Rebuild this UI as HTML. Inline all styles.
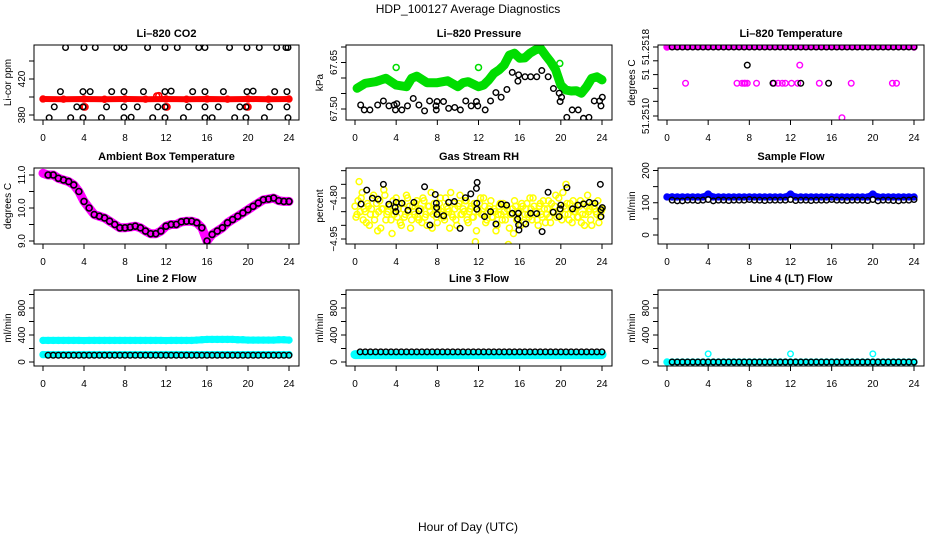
<!DOCTYPE html>
<html><head><meta charset="utf-8"><style>
html,body{margin:0;padding:0;background:#fff}
svg{display:block;font-family:"Liberation Sans",Arial,sans-serif}
</style></head><body>
<svg id="chart" width="936" height="540" viewBox="0 0 936 540">
<text x="468" y="13" text-anchor="middle" font-size="12">HDP_100127  Average Diagnostics</text>
<text x="468" y="531" text-anchor="middle" font-size="12">Hour of Day (UTC)</text>
</svg>
<script>
// ---------- data ----------
const xTicks = [0,4,8,12,16,20,24];
const halfH = [0.5,1,1.5,2,2.5,3,3.5,4,4.5,5,5.5,6,6.5,7,7.5,8,8.5,9,9.5,10,10.5,11,11.5,12,12.5,13,13.5,14,14.5,15,15.5,16,16.5,17,17.5,18,18.5,19,19.5,20,20.5,21,21.5,22,22.5,23,23.5,24];

// CO2
const co2TopH = [2.2,4,5.1,7.2,7.9,10.2,11.9,13.1,15.2,15.8,18.2,19.9,21.1,22.8,23.7,23.9];
const co2TopV = [455,455,455,455,455,455,455,455,455,455,455,455,455,455,455,455];
const co2R2H = [1.7,3.9,4.6,6.7,7.9,9.8,11.9,12.5,14.6,15.8,17.6,19.9,20.5,22.6,23.8];
const co2R2V = [406,406,406,406,406,406,406,406.5,406,406,406,406,406.5,406,406];
const co2R3H = [1.1,3.3,3.9,6.2,7.9,9.2,11.2,11.9,14.2,15.8,17.1,19.2,19.8,22.1,23.8];
const co2R3V = [389,389,389,389,389,389,389,389,389,389,389,389,389,389,389];
const co2R4H = [0.6,2.7,3.9,5.7,7.9,8.6,10.7,11.9,13.7,15.8,16.5,18.7,19.8,21.6,23.9];
const co2R4V = [377,377,377,377,377,377.5,377,377,377,377,377,377,377,377,377];
const co2RedH = [0,2,4,6,8,10,12,14,16,18,20,22,24];
const co2RedV = [397.8,397.6,397.8,397.5,397.8,397.6,397.8,397.5,397.8,397.6,397.8,397.6,397.8];
const co2RedExtraH = [4,4.1,11.1,11.3,12,12.1,19.9,20];
const co2RedExtraV = [389,389,401,401.5,389,389,389,389];

// Pressure
const presBlackH = [0.55,0.9,1.45,2.2,2.76,3.3,3.8,3.93,4.06,4.55,5.1,5.66,6.21,6.76,7.25,7.87,7.97,7.9,8.6,9.1,9.69,10.24,10.76,11.29,11.8,11.93,12.65,13.17,13.69,14.2,14.76,15.28,15.83,15.9,16.52,17.07,17.66,18.15,18.77,19.28,19.84,19.93,20.07,20.58,21.1,21.69,22.2,22.73,23.25,23.77,23.9,24.03];
const presBlackV = [67.513,67.497,67.497,67.513,67.526,67.510,67.513,67.497,67.517,67.497,67.510,67.534,67.513,67.494,67.526,67.510,67.524,67.497,67.524,67.502,67.505,67.497,67.526,67.510,67.524,67.510,67.497,67.526,67.553,67.538,67.563,67.618,67.590,67.610,67.604,67.604,67.604,67.624,67.604,67.566,67.551,67.524,67.538,67.473,67.497,67.497,67.470,67.473,67.526,67.526,67.510,67.538];
const presGreenH = [0.2,1,2,3,4,5,5.5,6,7,8,9,10,10.5,11,12,12.5,13,13.5,14,14.5,15,15.5,16,16.5,17,17.5,18,18.5,19,19.5,20,20.5,21,21.5,22,22.5,23,23.5,24];
const presGreenV = [67.567,67.583,67.588,67.599,67.577,67.572,67.599,67.606,67.585,67.585,67.591,67.572,67.585,67.588,67.572,67.577,67.594,67.615,67.626,67.642,67.674,67.680,67.664,67.665,67.680,67.690,67.696,67.674,67.653,67.626,67.577,67.561,67.558,67.559,67.551,67.572,67.599,67.604,67.594];
const presGreenOutH = [4,12,19.9];
const presGreenOutV = [67.634,67.634,67.647];

// Li-820 temperature
const tempTopV = 51.2518;
const tempMagH = [1.8,6.8,7.3,7.5,7.6,7.8,8.7,10.4,10.8,11.2,11.5,12.1,12.7,14.8,17.9,21.9,22.3,12.9,17];
const tempMagV = [51.25138,51.25138,51.25138,51.25138,51.25138,51.25138,51.25138,51.25138,51.25138,51.25138,51.25138,51.25138,51.25138,51.25138,51.25138,51.25138,51.25138,51.25159,51.25098];
const tempBlkH = [10.3,13.0,15.7,7.8];
const tempBlkV = [51.25138,51.25138,51.25138,51.25159];

// Ambient box temperature (every 0.5 h from 0)
const ambV = [11.05,11.0,11.0,10.9,10.85,10.8,10.7,10.5,10.2,10.0,9.8,9.75,9.7,9.6,9.5,9.4,9.4,9.42,9.45,9.4,9.3,9.22,9.22,9.3,9.45,9.5,9.5,9.58,9.6,9.6,9.55,9.4,9.0,9.2,9.3,9.4,9.55,9.65,9.75,9.85,9.95,10.05,10.15,10.25,10.27,10.3,10.22,10.2,10.2];

// Gas stream RH
const rhBlackH = [0.59,1.14,1.69,2.24,2.76,3.29,3.9,3.97,4.0,4.55,5.14,5.72,6.21,6.76,7.28,7.8,7.9,7.93,7.97,8.62,9.1,9.66,10.21,10.73,11.25,11.8,11.87,11.84,11.84,12.59,13.17,13.69,14.21,14.73,15.28,15.8,15.87,15.9,15.93,16.59,17.07,17.66,18.18,18.76,19.25,19.84,19.93,20.0,20.59,21.14,21.66,22.21,22.76,23.32,23.84,23.9,23.9,24.03];
const rhBlackV = [-4.822,-4.771,-4.801,-4.804,-4.750,-4.823,-4.834,-4.850,-4.816,-4.819,-4.845,-4.816,-4.847,-4.759,-4.899,-4.787,-4.819,-4.835,-4.860,-4.865,-4.816,-4.813,-4.911,-4.799,-4.785,-4.765,-4.743,-4.819,-4.841,-4.868,-4.850,-4.895,-4.823,-4.826,-4.856,-4.877,-4.856,-4.899,-4.917,-4.895,-4.856,-4.857,-4.923,-4.779,-4.852,-4.868,-4.840,-4.826,-4.762,-4.840,-4.826,-4.822,-4.816,-4.819,-4.750,-4.843,-4.868,-4.835];
const rhYellowA = [-4.83,-4.86,-4.74,-4.80,-4.88,-4.85,-4.82,-4.90,-4.84,-4.79,-4.86,-4.92,-4.81,-4.84,-4.77,-4.88,-4.85,-4.83,-4.93,-4.86,-4.80,-4.84,-4.89,-4.82,-4.87,-4.79,-4.85,-4.91,-4.83,-4.86,-4.81,-4.88,-4.84,-4.80,-4.87,-4.90,-4.83,-4.78,-4.86,-4.84,-4.89,-4.82,-4.85,-4.87,-4.80,-4.84,-4.91,-4.86,-4.82,-4.88,-4.83,-4.79,-4.86,-4.85,-4.81,-4.89,-4.84,-4.87,-4.82,-4.92,-4.85,-4.80,-4.86,-4.83,-4.88,-4.84,-4.81,-4.87,-4.85,-4.90,-4.83,-4.86,-4.82,-4.88,-4.84,-4.91,-4.86,-4.93,-4.83,-4.85,-4.87,-4.82,-4.89,-4.84,-4.86,-4.80,-4.88,-4.83,-4.85,-4.90,-4.82,-4.87,-4.84,-4.86,-4.81,-4.89,-4.85,-4.83,-4.87,-4.80,-4.84,-4.78,-4.86,-4.82,-4.88,-4.84,-4.81,-4.85,-4.87,-4.83,-4.89,-4.82,-4.86,-4.79,-4.84,-4.90,-4.83,-4.85,-4.81,-4.87,-4.84];
const rhYellowB = [-4.87,-4.81,-4.85,-4.78,-4.84,-4.89,-4.83,-4.86,-4.80,-4.88,-4.82,-4.85,-4.91,-4.84,-4.79,-4.86,-4.83,-4.88,-4.81,-4.85,-4.87,-4.82,-4.90,-4.84,-4.86,-4.80,-4.83,-4.88,-4.85,-4.82,-4.87,-4.84,-4.89,-4.81,-4.86,-4.83,-4.85,-4.91,-4.82,-4.87,-4.84,-4.80,-4.86,-4.88,-4.83,-4.85,-4.78,-4.87,-4.84,-4.90,-4.82,-4.86,-4.84,-4.81,-4.88,-4.85,-4.83,-4.87,-4.96,-4.84,-4.82,-4.86,-4.80,-4.89,-4.85,-4.83,-4.87,-4.84,-4.92,-4.86,-4.82,-4.88,-4.85,-4.83,-4.97,-4.86,-4.84,-4.81,-4.88,-4.85,-4.90,-4.83,-4.86,-4.82,-4.87,-4.84,-4.80,-4.85,-4.88,-4.83,-4.86,-4.81,-4.89,-4.84,-4.87,-4.82,-4.85,-4.79,-4.86,-4.84,-4.88,-4.83,-4.75,-4.86,-4.82,-4.89,-4.85,-4.84,-4.87,-4.81,-4.86,-4.90,-4.83,-4.85,-4.88,-4.82,-4.84,-4.86,-4.89,-4.85];

// Flows (every 0.5 h, matching halfH)
const sampleBlue = [118,118,118,118,118,118,118,127,118,118,118,118,118,118,118,118,118,118,118,118,118,118,118,127,118,118,118,118,118,118,118,118,118,118,118,118,118,118,118,127,118,118,118,118,118,118,118,118];
const sampleBlack = [108,106,106,108,108,107,108,110,106,108,108,107,108,108,108,110,108,108,107,108,108,108,108,110,107,108,108,107,108,108,108,110,108,108,107,108,108,108,107,110,106,108,108,107,106,108,108,110];
const line2CyanHi = [320,320,320,320,320,320,320,318,320,320,320,320,320,320,320,320,320,320,320,320,320,320,320,318,320,320,320,320,320,325,330,335,335,335,335,335,335,330,330,325,325,325,325,325,325,330,330,325];
const line2CyanLo = [110,110,110,110,110,110,110,110,110,110,110,110,110,110,110,110,110,110,110,110,110,110,110,110,110,110,110,110,110,110,110,110,110,110,110,110,110,110,110,110,110,110,110,110,110,110,110,110];
const line2Black = [100,100,100,100,100,100,100,100,100,100,100,100,100,100,100,100,100,100,100,100,100,100,100,100,100,100,100,100,100,100,100,100,100,100,100,100,100,100,100,100,100,100,100,100,100,100,100,100];
const line3Cyan = [110,110,110,110,110,110,110,110,110,110,110,110,110,110,110,110,110,110,110,110,110,110,110,110,110,110,110,110,110,110,110,110,110,110,110,110,110,110,110,110,110,110,110,110,110,110,110,110];
const line3Black = [150,150,150,150,150,150,150,150,150,150,150,150,150,150,150,150,150,150,150,150,150,150,150,150,150,150,150,150,150,150,150,150,150,150,150,150,150,150,150,150,150,150,150,150,150,150,150,150];
const line4Cyan = [0,0,0,0,0,0,0,120,0,0,0,0,0,0,0,0,0,0,0,0,0,0,0,120,0,0,0,0,0,0,0,0,0,0,0,0,0,0,0,120,0,0,0,0,0,0,0,0];
const line4Black = [0,0,0,0,0,0,0,0,0,0,0,0,0,0,0,0,0,0,0,0,0,0,0,0,0,0,0,0,0,0,0,0,0,0,0,0,0,0,0,0,0,0,0,0,0,0,0,0];

// ---------- drawing ----------
const NS = 'http://www.w3.org/2000/svg';
const svg = document.getElementById('chart');
const cols = [34,346,658], colW = [265,266,266];
const rowT = [45,168,290], rowB = [120,244,366];
function mk(tag, attrs, parent){ const e=document.createElementNS(NS,tag); for(const k in attrs) e.setAttribute(k,attrs[k]); (parent||svg).appendChild(e); return e; }
function lin(v0,y0,v1,y1){ return v => y0+(v-v0)*(y1-y0)/(v1-v0); }

function panel(id, c, r, title, ytitle, ya, yticks, ylabels){
  const L=cols[c], T=rowT[r], W=colW[c], B=rowB[r];
  const g = mk('g',{});
  
  
  const xs = h => L+9+h*(W-19)/24;
  const ys = lin(ya[0],ya[1],ya[2],ya[3]);
  const cp = mk('clipPath',{id:'clip-'+id},g);
  mk('rect',{x:L,y:T,width:W,height:B-T},cp);
  const plot = mk('g',{'clip-path':'url(#clip-'+id+')'},g);
  
  
  const box = mk('rect',{x:L,y:T,width:W,height:B-T,fill:'none',stroke:'#000','stroke-width':1},g);
  
  
  const t = mk('text',{x:L+W/2,y:T-8,'text-anchor':'middle','font-size':11,'font-weight':'bold'},g);
  t.textContent = title;
  
  
  const yt = mk('text',{x:0,y:0,'text-anchor':'middle','font-size':10,transform:`translate(${L-23},${(T+B)/2}) rotate(-90)`},g);
  yt.textContent = ytitle;
  
  
  // x axis
  xTicks.forEach(v=>{
    mk('line',{x1:xs(v),x2:xs(v),y1:B,y2:B+5,stroke:'#000'},g);
    const tl = mk('text',{x:xs(v),y:B+21,'text-anchor':'middle','font-size':10},g);
    tl.textContent = v;
    
    
  });
  // y axis
  yticks.forEach((v,i)=>{
    mk('line',{x1:L-5,x2:L,y1:ys(v),y2:ys(v),stroke:'#000'},g);
    if(ylabels[i]!==''){
      const tl = mk('text',{x:0,y:0,'text-anchor':'middle','font-size':10,transform:`translate(${L-9},${ys(v)}) rotate(-90)`},g);
      tl.textContent = ylabels[i];
      
      
    }
  });
  return {plot, xs, ys};
}
function pts(p, H, V, color, name, r, sw){
  H.forEach((h,i)=>{
    const e = mk('circle',{cx:p.xs(h),cy:p.ys(V[i]),r:r||2.8,fill:'none',stroke:color,'stroke-width':sw||1.4},p.plot);
    
    
  });
}
function band(p, H, V, color, w, name){
  const d = H.map((h,i)=>(i?'L':'M')+p.xs(h).toFixed(1)+','+p.ys(V[i]).toFixed(1)).join('');
  const e = mk('path',{d,fill:'none',stroke:color,'stroke-width':w,'stroke-linecap':'round','stroke-linejoin':'round'},p.plot);
  
  
  pts(p,H,V,color,name+'-point',3,1.4);
}
const ambH = ambV.map((v,i)=>i*0.5);
const ambBlackV = ambV.slice(1);

// CO2
let p = panel('co2',0,0,'Li\u2013820 CO2','Li-cor ppm',[380,115,420,79],[380,400,420,440],['380','','420','']);
band(p,co2RedH,co2RedV,'#ff0000',6,'co2-red-series');
pts(p,co2RedExtraH,co2RedExtraV,'#ff0000','co2-red-point',3,1.6);
pts(p,co2TopH,co2TopV,'#000','co2-black-point');
pts(p,co2R2H,co2R2V,'#000','co2-black-point');
pts(p,co2R3H,co2R3V,'#000','co2-black-point');
pts(p,co2R4H,co2R4V,'#000','co2-black-point');

// Pressure
p = panel('pressure',1,0,'Li\u2013820 Pressure','kPa',[67.50,109,67.65,62.5],[67.50,67.55,67.60,67.65,67.70],['67.50','','','67.65','']);
band(p,presGreenH,presGreenV,'#00dd00',9,'pressure-green-series');
pts(p,presGreenOutH,presGreenOutV,'#00dd00','pressure-green-point',3,1.5);
pts(p,presBlackH,presBlackV,'#000','pressure-black-point');

// Li-820 temperature
p = panel('li820temp',2,0,'Li\u2013820 Temperature','degrees C',[51.2510,116,51.2518,47],[51.2518,51.25164,51.25148,51.25132,51.25117,51.2510],['51.2518','','51','','','51.2510']);
band(p,[0,24],[tempTopV,tempTopV],'#ff00ff',6,'li820temp-magenta-series');
pts(p,halfH,halfH.map(()=>tempTopV),'#000','li820temp-black-point');
pts(p,tempMagH,tempMagV,'#ff00ff','li820temp-magenta-point');
pts(p,tempBlkH,tempBlkV,'#000','li820temp-black-point');

// Ambient
p = panel('ambient',0,1,'Ambient Box Temperature','degrees C',[9.0,241,11.0,175],[9.0,9.5,10.0,10.5,11.0],['9.0','','10.0','','11.0']);
band(p,ambH,ambV,'#ff00ff',9,'ambient-magenta-series');
pts(p,halfH,ambBlackV,'#000','ambient-black-point',3,1.6);

// RH
p = panel('rh',1,1,'Gas Stream RH','percent',[-4.95,239,-4.80,198],[-4.95,-4.90,-4.85,-4.80,-4.75,-4.70],['\u22124.95','','','\u22124.80','','']);
pts(p,rhYellowA.map((v,i)=>i*24/(rhYellowA.length-1)),rhYellowA,'#ffff00','rh-yellow-point',3,1.5);
pts(p,rhYellowB.map((v,i)=>0.1+i*23.8/(rhYellowB.length-1)),rhYellowB,'#ffff00','rh-yellow-point',3,1.5);
pts(p,rhBlackH,rhBlackV,'#000','rh-black-point');

// Sample flow
p = panel('sample-flow',2,1,'Sample Flow','ml/min',[0,235,200,170.5],[0,50,100,150,200],['0','','100','','200']);
band(p,halfH,sampleBlue,'#0000ff',6,'sample-flow-blue-series');
band(p,[0,0.5],[118,118],'#0000ff',6,'sample-flow-blue-start');
pts(p,halfH,sampleBlack,'#000','sample-flow-black-point');

const flowTicks=[0,200,400,600,800,1000], flowLabels=['0','','400','','800',''];
// Line 2
p = panel('line2-flow',0,2,'Line 2 Flow','ml/min',[0,362,800,308],flowTicks,flowLabels);
band(p,[0].concat(halfH),[320].concat(line2CyanHi),'#00ffff',7,'line2-cyan-high-series');
band(p,[0].concat(halfH),[110].concat(line2CyanLo),'#00ffff',7,'line2-cyan-low-series');
pts(p,halfH,line2Black,'#000','line2-black-point');

// Line 3
p = panel('line3-flow',1,2,'Line 3 Flow','ml/min',[0,362,800,308],flowTicks,flowLabels);
band(p,[0].concat(halfH),[110].concat(line3Cyan),'#00ffff',9,'line3-cyan-series');
pts(p,halfH,line3Black,'#000','line3-black-point');

// Line 4
p = panel('line4-flow',2,2,'Line 4 (LT) Flow','ml/min',[0,362,800,308],flowTicks,flowLabels);
band(p,[0].concat(halfH),[0].concat(line4Black),'#00ffff',6,'line4-cyan-series');
pts(p,halfH,line4Cyan,'#00ffff','line4-cyan-point');
pts(p,halfH,line4Black,'#000','line4-black-point');
</script>
</body></html>
